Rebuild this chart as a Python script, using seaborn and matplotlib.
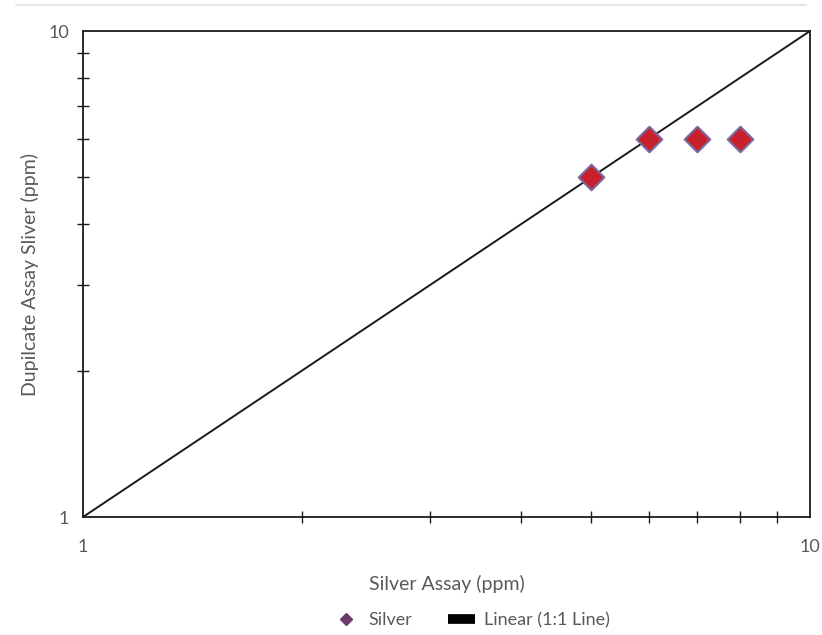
import matplotlib
matplotlib.use('Agg')
import matplotlib.pyplot as plt
import seaborn as sns
import pandas as pd
from matplotlib.lines import Line2D
from matplotlib.ticker import LogLocator, NullFormatter, FixedLocator, FixedFormatter

silver_assay = [5, 6, 7, 8]
duplicate_assay = [5, 6, 6, 6]
line_x = [1, 10]
line_y = [1, 10]

df = pd.DataFrame({'assay': silver_assay, 'duplicate': duplicate_assay})

sns.set_style('white')
plt.rcParams['font.family'] = ['Lato', 'DejaVu Sans']
text_color = '#595959'

fig = plt.figure(figsize=(8.22, 6.35), dpi=100)
ax = fig.add_axes([83 / 822, 1 - 517 / 635, 727 / 822, 486 / 635])

ax.plot(line_x, line_y, color='#1a1a1a', linewidth=1.4, zorder=2)
sns.scatterplot(data=df, x='assay', y='duplicate', marker='D', s=170,
                color='#C8202C', edgecolor='#7A6A9E', linewidth=1.5,
                ax=ax, zorder=3, legend=False)

ax.set_xscale('log')
ax.set_yscale('log')
ax.set_xlim(1, 10)
ax.set_ylim(1, 10)
ax.xaxis.set_major_locator(FixedLocator([1, 10]))
ax.xaxis.set_major_formatter(FixedFormatter(['1', '10']))
ax.yaxis.set_major_locator(FixedLocator([1, 10]))
ax.yaxis.set_major_formatter(FixedFormatter(['1', '10']))
ax.xaxis.set_minor_locator(LogLocator(base=10, subs=range(2, 10)))
ax.yaxis.set_minor_locator(LogLocator(base=10, subs=range(2, 10)))
ax.xaxis.set_minor_formatter(NullFormatter())
ax.yaxis.set_minor_formatter(NullFormatter())
ax.tick_params(which='both', bottom=True, left=True, top=False, right=False)
ax.tick_params(which='minor', direction='inout', length=8, width=1, color='#1a1a1a')
ax.tick_params(which='major', direction='out', length=0, labelsize=13,
               labelcolor=text_color)
ax.tick_params(axis='x', which='major', pad=16)
ax.tick_params(axis='y', which='major', pad=10)

for sp in ax.spines.values():
    sp.set_color('#1a1a1a')
    sp.set_linewidth(1.3)

ax.set_xlabel('Silver Assay (ppm)', fontsize=14, color=text_color, labelpad=14)
ax.set_ylabel('Dupilcate Assay Sliver (ppm)', fontsize=14, color=text_color, labelpad=7)

handles = [
    Line2D([], [], marker='D', color='#6B3A6B', linestyle='none', markersize=6),
    Line2D([], [], color='black', linewidth=7, solid_capstyle='butt'),
]
fig.legend(handles, ['Silver', 'Linear (1:1 Line)'], loc='center',
           bbox_to_anchor=(471 / 822, 1 - 620 / 635), ncol=2, frameon=False,
           fontsize=13, labelcolor=text_color, handlelength=1.5,
           columnspacing=2.0, handletextpad=0.5)

fig.add_artist(Line2D([0.02, 0.98], [1 - 5 / 635, 1 - 5 / 635],
                      color='#e6e6e6', linewidth=1.5))

fig.savefig('out.png', dpi=100)
